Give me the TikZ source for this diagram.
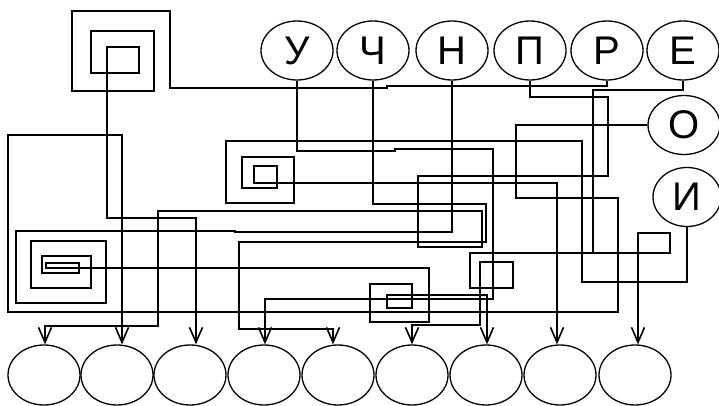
\documentclass[tikz,border=0pt]{standalone}
\usepackage{fontspec}
\setmainfont{Liberation Sans}
\usetikzlibrary{arrows.meta,shapes.geometric}
\begin{document}
\begin{tikzpicture}[x=1pt,y=-1pt,
  wire/.style={line width=1.7pt, line join=miter},
  arr/.style={wire,-{Straight Barb[length=15pt,width=13pt,line width=1.6pt]}},
  letter/.style={ellipse, draw, line width=1.3pt, minimum width=72pt, minimum height=59pt, inner sep=0pt, font=\fontsize{40}{40}\selectfont},
  goal/.style={ellipse, draw, line width=1.3pt, minimum width=72pt, minimum height=60pt, inner sep=0pt}]
\useasboundingbox (0,0) rectangle (719,406);
% letter nodes
\node[letter] (u)  at (297,50.5) {У};
\node[letter] (ch) at (373,50.5) {Ч};
\node[letter] (n)  at (452,50.5) {Н};
\node[letter] (p)  at (530,50.5) {П};
\node[letter] (r)  at (607,50.5) {Р};
\node[letter] (e)  at (683,50.5) {Е};
\node[letter] (o)  at (684,125) {О};
\node[letter, minimum width=68pt] (i) at (687,197) {И};
% goal circles
\foreach \x/\nm in {44/c1,117/c2,190/c3,264/c4,338/c5,412/c6,486/c7,560/c8,635/c9}
  \node[goal] (\nm) at (\x,375) {};
% Р -> spiral -> c3
\draw[arr] (r.south) -- (607,86) -- (387,86) -- (387,88) -- (170,88) -- (170,11) -- (72,11)
  -- (72,91) -- (154,91) -- (154,31) -- (91,31) -- (91,73) -- (139,73) -- (139,47)
  -- (107,47) -- (107,218) -- (196,218) -- ([xshift=6pt]c3.north);
% У -> c4
\draw[arr] (u.south) -- (297,151) -- (395,151) -- (395,149) -- (493,149) -- (493,299)
  -- (265,299) -- ([xshift=1pt]c4.north);
% Ч -> c5
\draw[arr] (ch.south) -- (373,204) -- (486,204) -- (486,242) -- (239,242) -- (239,329)
  -- (333,329) -- ([xshift=-5pt]c5.north);
% Н -> c7
\draw[arr] (n.south) -- (452,232) -- (235,232) -- (235,231) -- (16,231) -- (16,303)
  -- (106,303) -- (106,241) -- (31,241) -- (31,288) -- (91,288) -- (91,256) -- (42,256)
  -- (42,273) -- (79,273) -- (79,263) -- (46,263) -- (46,268) -- (429,268)
  -- (429,322) -- (370,322) -- (370,284) -- (412,284) -- (412,308) -- (387,308)
  -- (387,295) -- (487,295) -- ([xshift=1pt]c7.north);
% П -> c1
\draw[arr] (p.south) -- (530,97) -- (608,97) -- (608,176) -- (418,176) -- (418,247)
  -- (482,247) -- (482,211) -- (158,211) -- (158,326) -- (45,326) -- ([xshift=1pt]c1.north);
% Е -> c6
\draw[arr] (e.south) -- (683,90) -- (593,90) -- (593,253) -- (470,253) -- (470,288)
  -- (513,288) -- (513,262) -- (480,262) -- (480,325) -- (412,325) -- (c6.north);
% branch -> c9
\coordinate (eb) at (593,253);
\draw[arr] (eb) -- (670,253) -- (670,233) -- (638,233) -- ([xshift=3pt]c9.north);
% О -> c2
\draw[arr] (o.west) -- (516,125) -- (516,198) -- (618,198) -- (618,312) -- (8,312)
  -- (8,135) -- (122,135) -- ([xshift=5pt]c2.north);
% И -> spiral -> c8
\draw[arr] (i.south) -- (687,282) -- (582,282) -- (582,141) -- (226,141) -- (226,203)
  -- (294,203) -- (294,157) -- (242,157) -- (242,188) -- (277,188) -- (277,166)
  -- (254,166) -- (254,183) -- (557,183) -- ([xshift=-3pt]c8.north);
\end{tikzpicture}
\end{document}
